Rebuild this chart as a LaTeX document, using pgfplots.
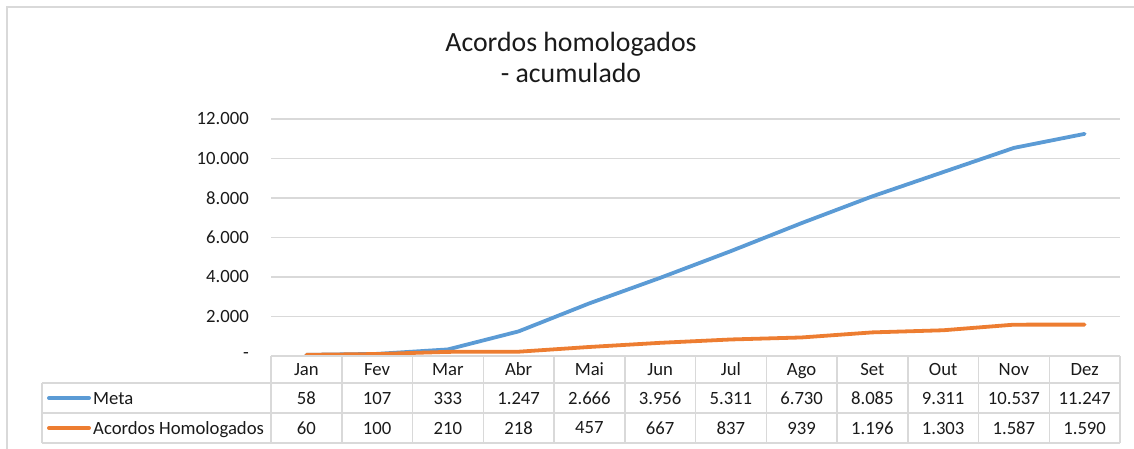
\documentclass[border=0pt]{standalone}
\usepackage{fontspec}
\setmainfont{Carlito}
\usepackage{pgfplots}
\usepackage{pgfplotstable}
\pgfplotsset{compat=1.18}
\definecolor{metac}{HTML}{5B9BD5}
\definecolor{acordc}{HTML}{ED7D31}
\definecolor{gridc}{HTML}{D9D9D9}
\definecolor{txt}{HTML}{1A1A1A}
\pgfplotstableread{
x meta acord
0 58 60
1 107 100
2 333 210
3 1247 218
4 2666 457
5 3956 667
6 5311 837
7 6730 939
8 8085 1196
9 9311 1303
10 10537 1587
11 11247 1590
}\data
\newcommand{\tfont}{\fontsize{18.7}{22}\selectfont}
\begin{document}
\begin{tikzpicture}[x=1pt,y=1pt]
\useasboundingbox (0,0) rectangle (1134,448);
\begin{scope}
\clip (0,0) rectangle (1134,448);
\draw[gridc, line width=2pt] (7,-20) -- (7,441) -- (1150,441);
\end{scope}
% title
\node[anchor=base, txt, font=\fontsize{27.8}{32}\selectfont, inner sep=0pt] at (571,396) {Acordos homologados};
\node[anchor=base, txt, font=\fontsize{27.8}{32}\selectfont, inner sep=0pt] at (571,365) {- acumulado};
\begin{axis}[
  at={(271pt,92pt)}, anchor=south west,
  scale only axis, width=849pt, height=237pt,
  xmin=-0.5, xmax=11.5, ymin=0, ymax=12000,
  clip=false,
  scaled y ticks=false,
  axis line style={draw=none},
  major tick length=0pt,
  ymajorgrids, grid style={gridc, line width=1.5pt},
  ytick={0,2000,4000,6000,8000,10000,12000},
  yticklabels={-,2.000,4.000,6.000,8.000,10.000,12.000},
  xtick={0,...,11},
  xticklabels={Jan,Fev,Mar,Abr,Mai,Jun,Jul,Ago,Set,Out,Nov,Dez},
  ticklabel style={font=\tfont, inner sep=0pt, text=txt},
  yticklabel style={anchor=east, xshift=-22pt},
  xticklabel style={anchor=base, yshift=-19.5pt},
  /pgf/number format/fixed,
  /pgf/number format/precision=0,
  /pgf/number format/1000 sep={.},
  /pgf/number format/assume math mode=true,
]
\addplot[metac, line width=3.8pt, line join=round, line cap=round] table[x=x, y=meta]{\data};
\addplot[acordc, line width=3.8pt, line join=round, line cap=round] table[x=x, y=acord]{\data};
\addplot[draw=none, mark=none, nodes near coords, point meta=\thisrow{meta},
  nodes near coords style={anchor=center, font=\tfont, inner sep=0pt, text=txt}]
  table[x=x, y expr=-2127]{\data};
\addplot[draw=none, mark=none, nodes near coords, point meta=\thisrow{acord},
  nodes near coords style={anchor=center, font=\tfont, inner sep=0pt, text=txt}]
  table[x=x, y expr=-3646]{\data};
\end{axis}
% data table grid
\begin{scope}[gridc, line width=1.5pt]
\draw (271,92) -- (1120,92);
\draw (42,65) -- (1120,65);
\draw (42,35) -- (1120,35);
\draw (42,5) -- (1120,5);
\draw (42,65) -- (42,5);
\foreach \i in {0,...,12} {\draw ({271+70.75*\i},92) -- ({271+70.75*\i},5);}
\end{scope}
% legend keys
\draw[metac, line width=4pt, line cap=round] (49,50) -- (89,50);
\draw[acordc, line width=4pt, line cap=round] (49,20) -- (89,20);
\node[anchor=base west, font=\tfont, inner sep=0pt, txt] at (93,44) {Meta};
\node[anchor=base west, font=\tfont, inner sep=0pt, txt] at (93,14) {Acordos Homologados};
\end{tikzpicture}
\end{document}
